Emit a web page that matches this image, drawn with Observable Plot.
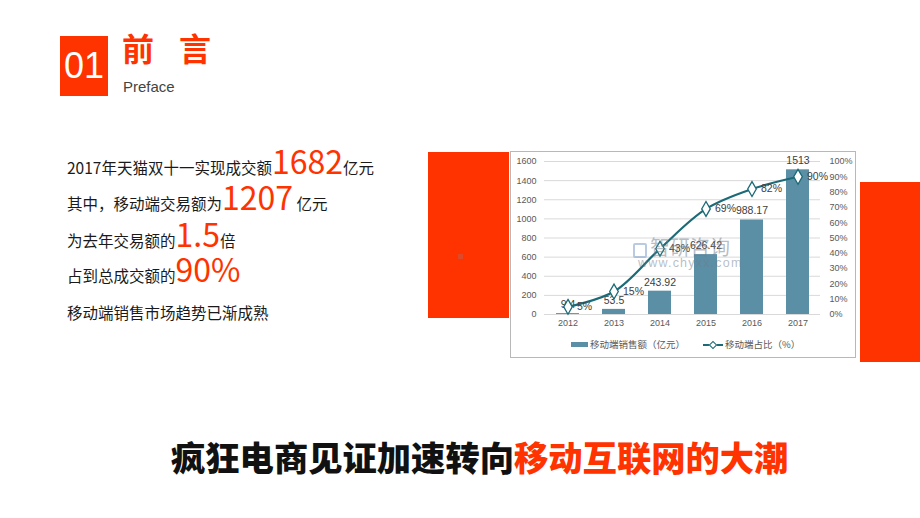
<!DOCTYPE html>
<html><head><meta charset="utf-8">
<script src="https://cdn.jsdelivr.net/npm/d3@7"></script>
<script src="https://cdn.jsdelivr.net/npm/@observablehq/plot@0.6"></script>
<style>
html,body{margin:0;padding:0}
body{width:920px;height:518px;overflow:hidden;background:#fff;position:relative;font-family:"Noto Sans CJK SC",sans-serif}
.abs{position:absolute;white-space:nowrap}
.red{background:#ff3300}
.line{position:absolute;left:67px;font-size:15.5px;line-height:1;color:#1a1a1a;white-space:nowrap}
.big{font-size:32px;line-height:1;color:#ff3300}
.leg{position:absolute;font-size:9.5px;line-height:1;color:#595959;white-space:nowrap}
</style></head><body>

<div class="abs red" style="left:60px;top:36px;width:48px;height:60px"></div>
<div class="abs" style="left:60px;top:36px;width:48px;height:60px;line-height:60px;text-align:center;color:#fff;font-family:'Liberation Sans',sans-serif;font-size:36px">01</div>
<div class="abs" style="left:122px;top:31px;font-size:32px;line-height:1;font-weight:700;color:#ff3300;letter-spacing:25px">前言</div>
<div class="abs" style="left:123px;top:79px;font-family:'Liberation Sans',sans-serif;font-size:15px;line-height:1;color:#444">Preface</div>

<div class="line" style="top:144px">2017年天猫双十一实现成交额<span class="big">1682</span>亿元</div>
<div class="line" style="top:179.5px">其中，移动端交易额为<span class="big">1207</span> 亿元</div>
<div class="line" style="top:216.5px">为去年交易额的<span class="big">1.5</span>倍</div>
<div class="line" style="top:252px">占到总成交额的<span class="big">90%</span></div>
<div class="line" style="top:305px">移动端销售市场趋势已渐成熟</div>

<div class="abs red" style="left:428px;top:152px;width:81px;height:166px"></div>
<div class="abs" style="left:458px;top:254px;width:5px;height:5px;background:#e0482a"></div>
<div class="abs red" style="left:860px;top:182px;width:60px;height:180px"></div>

<div class="abs" style="left:510px;top:151px;width:346px;height:207px;border:1px solid #b8b8b8;box-sizing:border-box;background:#fff"></div>
<div id="chart" class="abs" style="left:510px;top:152px"></div>

<div class="abs" style="left:633px;top:243px;width:14px;height:15px;border:2px solid rgba(120,150,200,0.5);box-sizing:border-box;border-radius:2px"></div>
<div class="abs" style="left:650px;top:237px;font-size:20px;line-height:1;color:rgba(110,125,140,0.5)">智研咨询</div>
<div class="abs" style="left:638px;top:257px;font-family:'Liberation Sans',sans-serif;font-size:12.5px;letter-spacing:1.2px;line-height:1;color:rgba(110,125,140,0.5)">www.chyxx.com</div>

<div class="abs" style="left:571px;top:342px;width:17px;height:5px;background:#5b8fa6"></div>
<div class="leg" style="left:590px;top:340px">移动端销售额（亿元）</div>
<div class="abs" style="left:703px;top:343.5px;width:20px;height:2px;background:#1b6a77"></div>
<div class="abs" style="left:710px;top:341.5px;width:6px;height:6px;background:#fff;border:1px solid #1b6a77;box-sizing:border-box;transform:rotate(45deg)"></div>
<div class="leg" style="left:725px;top:340px">移动端占比（%）</div>

<div class="abs" style="left:171px;top:439px;font-size:34.3px;line-height:1;font-weight:900;color:#111">疯狂电商见证加速转向<span style="color:#ff3300">移动互联网的大潮</span></div>

<script>
const years = ["2012", "2013", "2014", "2015", "2016", "2017"];
const sales = [9.4, 53.5, 243.92, 626.42, 988.17, 1513];
const salesLabels = ["9.4", "53.5", "243.92", "626.42", "988.17", "1513"];
const share = [5, 15, 43, 69, 82, 90];
const leftTicks = [0, 200, 400, 600, 800, 1000, 1200, 1400, 1600];
const rightTicks = [0, 10, 20, 30, 40, 50, 60, 70, 80, 90, 100];

const scaleK = 1600 / 100;
const data = years.map((y, i) => ({year: y, sales: sales[i], label: salesLabels[i], share: share[i], sy: share[i] * scaleK}));
const teal = "#1b6a77";

const chart = Plot.plot({
  width: 346,
  height: 182,
  marginLeft: 34,
  marginRight: 36,
  marginTop: 9,
  marginBottom: 20,
  style: {fontFamily: "'Liberation Sans', 'Noto Sans CJK SC', sans-serif", fontSize: "9px", color: "#595959", background: "transparent", overflow: "visible"},
  x: {domain: years, paddingInner: 0.5, paddingOuter: 0.25, label: null},
  y: {domain: [0, 1600], label: null},
  marks: [
    Plot.gridY(leftTicks, {stroke: "#d9d9d9", strokeOpacity: 1}),
    Plot.axisY(leftTicks, {anchor: "left", tickSize: 0, tickPadding: 8, tickFormat: d => String(d), label: null}),
    Plot.axisY(rightTicks.map(d => d * scaleK), {anchor: "right", tickSize: 0, tickPadding: 9, tickFormat: d => Math.round(d / scaleK) + "%", label: null}),
    Plot.axisX({tickSize: 0, tickPadding: 5, label: null}),
    Plot.barY(data, {x: "year", y: "sales", fill: "#5b8fa6"}),
    Plot.text(data, {x: "year", y: "sales", text: "label", dy: -9, fill: "#404040", fontSize: 10.5}),
    Plot.line(data, {x: "year", y: "sy", stroke: teal, strokeWidth: 2.2, curve: "catmull-rom"}),
    Plot.dot(data, {x: "year", y: "sy", symbol: "diamond", r: 4.5, fill: "white", stroke: teal, strokeWidth: 1.3}),
    Plot.text(data, {x: "year", y: "sy", text: d => d.share + "%", textAnchor: "start", dx: 9, fill: "#404040", fontSize: 10.5})
  ]
});
document.getElementById("chart").appendChild(chart);
</script>
</body></html>
